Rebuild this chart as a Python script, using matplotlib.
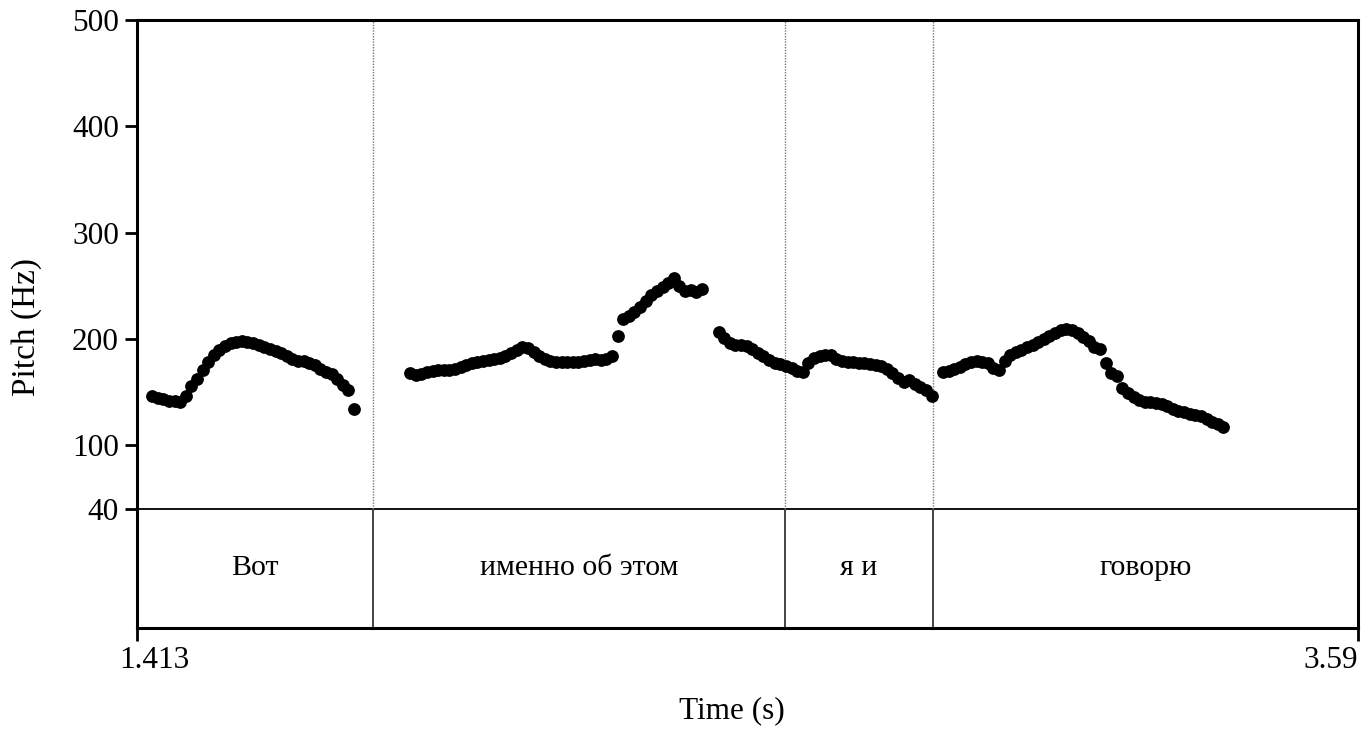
import numpy as np
import matplotlib
matplotlib.use("Agg")
import matplotlib.pyplot as plt
from matplotlib.transforms import ScaledTranslation

plt.rcParams['font.family'] = ['Liberation Serif', 'DejaVu Serif']

# Praat pitch frames, 0.01 s step; each voiced stretch: start time + values (Hz)
seg1_start = 1.44
seg1_pitch = [146.5, 144.5, 143, 142, 141.5, 141, 146, 156, 162, 171,
              178, 185, 190, 193.5, 196, 197.5, 198, 197, 196, 194,
              192, 190.5, 189, 187, 184, 181, 179.5, 179, 177.5, 175.5,
              172, 169, 167, 162, 157, 152, 134]

seg2_start = 1.90
seg2_pitch = [168, 166.5, 167, 168.5, 170, 170.5, 170.5, 170.5, 172, 174,
              175.5, 177, 178, 179.5, 180.5, 181, 182, 184, 187, 190,
              192.5, 191, 188, 184, 181, 179.5, 178.5, 178, 178, 178,
              178, 179, 180.5, 181, 180.5, 181, 184, 203, 219, 222,
              225, 230, 236, 241, 245, 249, 253, 257.5, 250, 245,
              246, 244.5, 246.5]

seg3_start = 2.45
seg3_pitch = [206.5, 201, 196.5, 194.5, 194, 193.5, 190.5, 187, 183.5, 180,
              177.5, 176, 174.5, 172.5, 170, 169, 177, 182, 184, 184.5,
              185, 181, 179, 178.5, 178, 177.5, 177, 176, 175.5, 174.5,
              171.5, 168, 163, 159, 161, 158, 155, 151.5, 146]

seg4_start = 2.85
seg4_pitch = [168.5, 169.5, 171.5, 174, 176.5, 178, 179, 178.5, 177, 173,
              170.5, 179.5, 185, 188, 190, 192, 194.5, 197, 200, 203,
              205.5, 208, 209, 208, 205.5, 202, 198, 192, 190.5, 177,
              168, 165.5, 154, 149, 145, 142.5, 141, 140.5, 140, 139,
              137, 134, 132, 131, 129, 128, 127, 124.5, 122, 120,
              117]

# TextGrid tier
boundaries = [1.8338, 2.5684, 2.8323]
interval_labels = ["Вот", "именно об этом", "я и", "говорю"]

t_min, t_max = 1.413, 3.59
f_min, f_max = 40, 500
tier_bottom = -72
step = 0.01

fig = plt.figure(figsize=(13.66, 7.30), dpi=100)
ax = fig.add_axes([0.1003, 0.1397, 0.8938, 0.8329])

for start, vals in [(seg1_start, seg1_pitch), (seg2_start, seg2_pitch),
                    (seg3_start, seg3_pitch), (seg4_start, seg4_pitch)]:
    t = start + step * np.arange(len(vals))
    ax.plot(t, vals, 'o', color='black', ms=9.2, mew=0, zorder=3)

# tier separator and interval boundaries
ax.axhline(f_min, color='black', lw=1.3)
for b in boundaries:
    ax.plot([b, b], [f_min, f_max], color='#777777', lw=1.0, ls=(0, (1, 1)))
    ax.plot([b, b], [tier_bottom, f_min], color='#444444', lw=1.4)

edges = [t_min] + boundaries + [t_max]
for i, lab in enumerate(interval_labels):
    mid = (edges[i] + edges[i + 1]) / 2
    ax.text(mid, (f_min + tier_bottom) / 2, lab, ha='center', va='center',
            fontsize=21.5)

ax.set_xlim(t_min, t_max)
ax.set_ylim(tier_bottom, f_max)
ax.set_yticks([40, 100, 200, 300, 400, 500])
ax.set_xticks([t_min, t_max])
ax.set_xticklabels(["1.413", "3.59"])
ax.tick_params(labelsize=22.5, length=9, width=2, direction='out', pad=4)
xl = ax.get_xticklabels()
xl[0].set_transform(xl[0].get_transform() + ScaledTranslation(0.17, 0, fig.dpi_scale_trans))
xl[-1].set_ha('right')

for s in ax.spines.values():
    s.set_linewidth(2.2)

ax.set_ylabel("Pitch (Hz)", fontsize=24)
ax.yaxis.set_label_coords(-0.078, 0.495)
ax.set_xlabel("Time (s)", fontsize=22.5)
ax.xaxis.set_label_coords(0.487, -0.112)

fig.savefig("out.png", dpi=100)
